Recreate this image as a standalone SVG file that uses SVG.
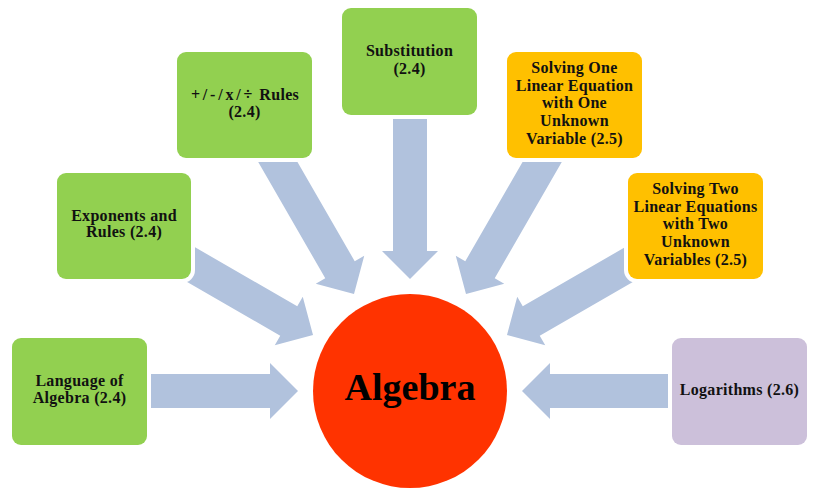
<svg xmlns="http://www.w3.org/2000/svg" xmlns:xlink="http://www.w3.org/1999/xlink" width="819" height="493" viewBox="0 0 819 493">
  <style>
    .box { stroke: #ffffff; stroke-width: 8; paint-order: stroke; }
    .green { fill: #92D050; }
    .orange { fill: #FFC000; }
    .lav { fill: #CCC0DA; }
    .arrow { fill: #B1C2DD; }
    .lbl { font-family: "Liberation Serif", "Times New Roman", serif; font-weight: bold; font-size: 16px; letter-spacing: 0.3px; fill: #111111; text-anchor: middle; }
    .wide { letter-spacing: 2.8px; }
    .center { font-family: "Liberation Serif", "Times New Roman", serif; font-weight: bold; font-size: 38px; fill: #000000; text-anchor: middle; }
  </style>
  <defs>
    <path id="arr" d="M -165,-17 L -28,-17 L -28,-28 L 0,0 L -28,28 L -28,17 L -165,17 Z"/>
  </defs>
  <rect x="0" y="0" width="819" height="493" fill="#ffffff"/>

  <g id="connectors" class="arrow">
    <use xlink:href="#arr" transform="translate(410 391) rotate(0) translate(-112 0)"/>
    <use xlink:href="#arr" transform="translate(410 391) rotate(30) translate(-112 0)"/>
    <use xlink:href="#arr" transform="translate(410 391) rotate(60) translate(-112 0)"/>
    <use xlink:href="#arr" transform="translate(410 391) rotate(90) translate(-112 0)"/>
    <use xlink:href="#arr" transform="translate(410 391) rotate(120) translate(-112 0)"/>
    <use xlink:href="#arr" transform="translate(410 391) rotate(150) translate(-112 0)"/>
    <use xlink:href="#arr" transform="translate(410 391) rotate(180) translate(-112 0)"/>
  </g>

  <g id="algebra">
    <circle cx="410" cy="391" r="97" fill="#FF3300"/>
    <text class="center" x="410" y="400">Algebra</text>
  </g>

  <g id="language">
    <rect class="box green" x="12" y="338" width="135" height="107" rx="9"/>
    <text class="lbl" x="79.5" y="386">Language of</text>
    <text class="lbl" x="79.5" y="403">Algebra (2.4)</text>
  </g>

  <g id="exponents">
    <rect class="box green" x="57" y="173" width="134" height="106" rx="9"/>
    <text class="lbl" x="124" y="221">Exponents and</text>
    <text class="lbl" x="124" y="237">Rules (2.4)</text>
  </g>

  <g id="rules">
    <rect class="box green" x="177" y="52" width="135" height="106" rx="9"/>
    <text class="lbl" x="245" y="100"><tspan class="wide">+/-/x/÷</tspan> Rules</text>
    <text class="lbl" x="244.5" y="117">(2.4)</text>
  </g>

  <g id="substitution">
    <rect class="box green" x="342" y="8" width="135" height="107" rx="9"/>
    <text class="lbl" x="409.5" y="56">Substitution</text>
    <text class="lbl" x="409.5" y="74">(2.4)</text>
  </g>

  <g id="solving-one">
    <rect class="box orange" x="507" y="52" width="135" height="106" rx="9"/>
    <text class="lbl" x="574.5" y="73">Solving One</text>
    <text class="lbl" x="574.5" y="91">Linear Equation</text>
    <text class="lbl" x="574.5" y="108">with One</text>
    <text class="lbl" x="574.5" y="126">Unknown</text>
    <text class="lbl" x="574.5" y="144">Variable (2.5)</text>
  </g>

  <g id="solving-two">
    <rect class="box orange" x="628" y="173" width="135" height="106" rx="9"/>
    <text class="lbl" x="695.5" y="194">Solving Two</text>
    <text class="lbl" x="695.5" y="212">Linear Equations</text>
    <text class="lbl" x="695.5" y="229">with Two</text>
    <text class="lbl" x="695.5" y="247">Unknown</text>
    <text class="lbl" x="695.5" y="265">Variables (2.5)</text>
  </g>

  <g id="logarithms">
    <rect class="box lav" x="672" y="338" width="135" height="107" rx="9"/>
    <text class="lbl" x="739.5" y="395">Logarithms (2.6)</text>
  </g>
</svg>
